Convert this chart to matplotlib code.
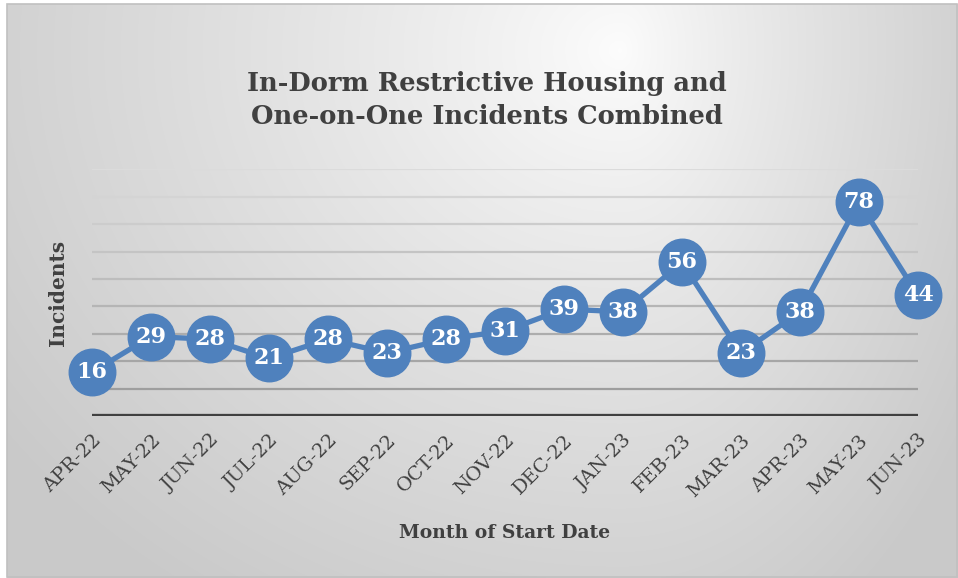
import numpy as np
import matplotlib
matplotlib.use("Agg")
import matplotlib.pyplot as plt
from matplotlib.patches import Rectangle

# chart data
months = ["APR-22", "MAY-22", "JUN-22", "JUL-22", "AUG-22", "SEP-22", "OCT-22",
          "NOV-22", "DEC-22", "JAN-23", "FEB-23", "MAR-23", "APR-23", "MAY-23", "JUN-23"]
incidents = [16, 29, 28, 21, 28, 23, 28, 31, 39, 38, 56, 23, 38, 78, 44]
grid_levels = [10, 20, 30, 40, 50, 60, 70, 80, 90]

W, H = 958, 578
fig = plt.figure(figsize=(W / 100, H / 100), dpi=100)

# gradient background (light near top centre-right, gray at edges)
bg = fig.add_axes([0, 0, 1, 1])
yy, xx = np.mgrid[0:H, 0:W]
cx, cy = 620.0, 50.0
u = np.where(xx < cx, (xx - cx) / (cx - 7), (xx - cx) / (957 - cx))
v = (yy - cy) / (577 - cy)
r = np.clip(np.sqrt(u ** 2 + v ** 2) / 1.25, 0, 1)
shade = 0.99 - 0.2 * r ** 0.85
img = np.dstack([shade, shade, shade])
img[:, :7] = 1.0
img[:4, :] = 1.0
bg.imshow(img, extent=[0, W, H, 0], aspect="auto", interpolation="bilinear")
bg.add_patch(Rectangle((7, 4), 950, 573, fill=False, edgecolor="#c0c0c0", lw=1.2))
bg.set_xlim(0, W)
bg.set_ylim(H, 0)
bg.axis("off")

ax = fig.add_axes([92 / W, 162 / H, 826 / W, 246.7 / H])
ax.patch.set_alpha(0)
x = np.arange(len(months))

# gridlines, darker toward the bottom
for lev in grid_levels:
    t = (lev - 10) / 80
    g = 0.62 + 0.24 * t
    ax.axhline(lev, color=(g, g, g), lw=1.6, zorder=1)
ax.axhline(0, color="#404040", lw=3.8, zorder=2)

ax.plot(x, incidents, color="#4f81bd", lw=3.8, marker="o", ms=33.5,
        markerfacecolor="#4f81bd", markeredgecolor="#4f81bd", zorder=3, clip_on=False)
for xi, val in zip(x, incidents):
    ax.text(xi, val, str(val), ha="center", va="center", color="white",
            fontsize=16, fontweight="bold", family="DejaVu Serif", zorder=4)

ax.set_xlim(0, 14)
ax.set_ylim(0, 90)
ax.set_yticks([])
ax.set_xticks(x)
ax.set_xticklabels(months, rotation=45, ha="right", va="top", rotation_mode="anchor",
                   fontsize=14, color="#404040", family="DejaVu Serif")
ax.tick_params(axis="x", length=0, pad=11)
for s in ax.spines.values():
    s.set_visible(False)

fig.text(487 / W, 1 - 100 / H, "In-Dorm Restrictive Housing and\nOne-on-One Incidents Combined",
         ha="center", va="center", fontsize=18.5, fontweight="bold", color="#404040",
         family="DejaVu Serif", linespacing=1.35)
fig.text(505 / W, 1 - 533 / H, "Month of Start Date", ha="center", va="center",
         fontsize=13.5, fontweight="bold", color="#404040", family="DejaVu Serif")
fig.text(58 / W, 1 - 293 / H, "Incidents", ha="center", va="center", rotation=90,
         fontsize=14.5, fontweight="bold", color="#404040", family="DejaVu Serif")

fig.savefig("out.png", dpi=100)
